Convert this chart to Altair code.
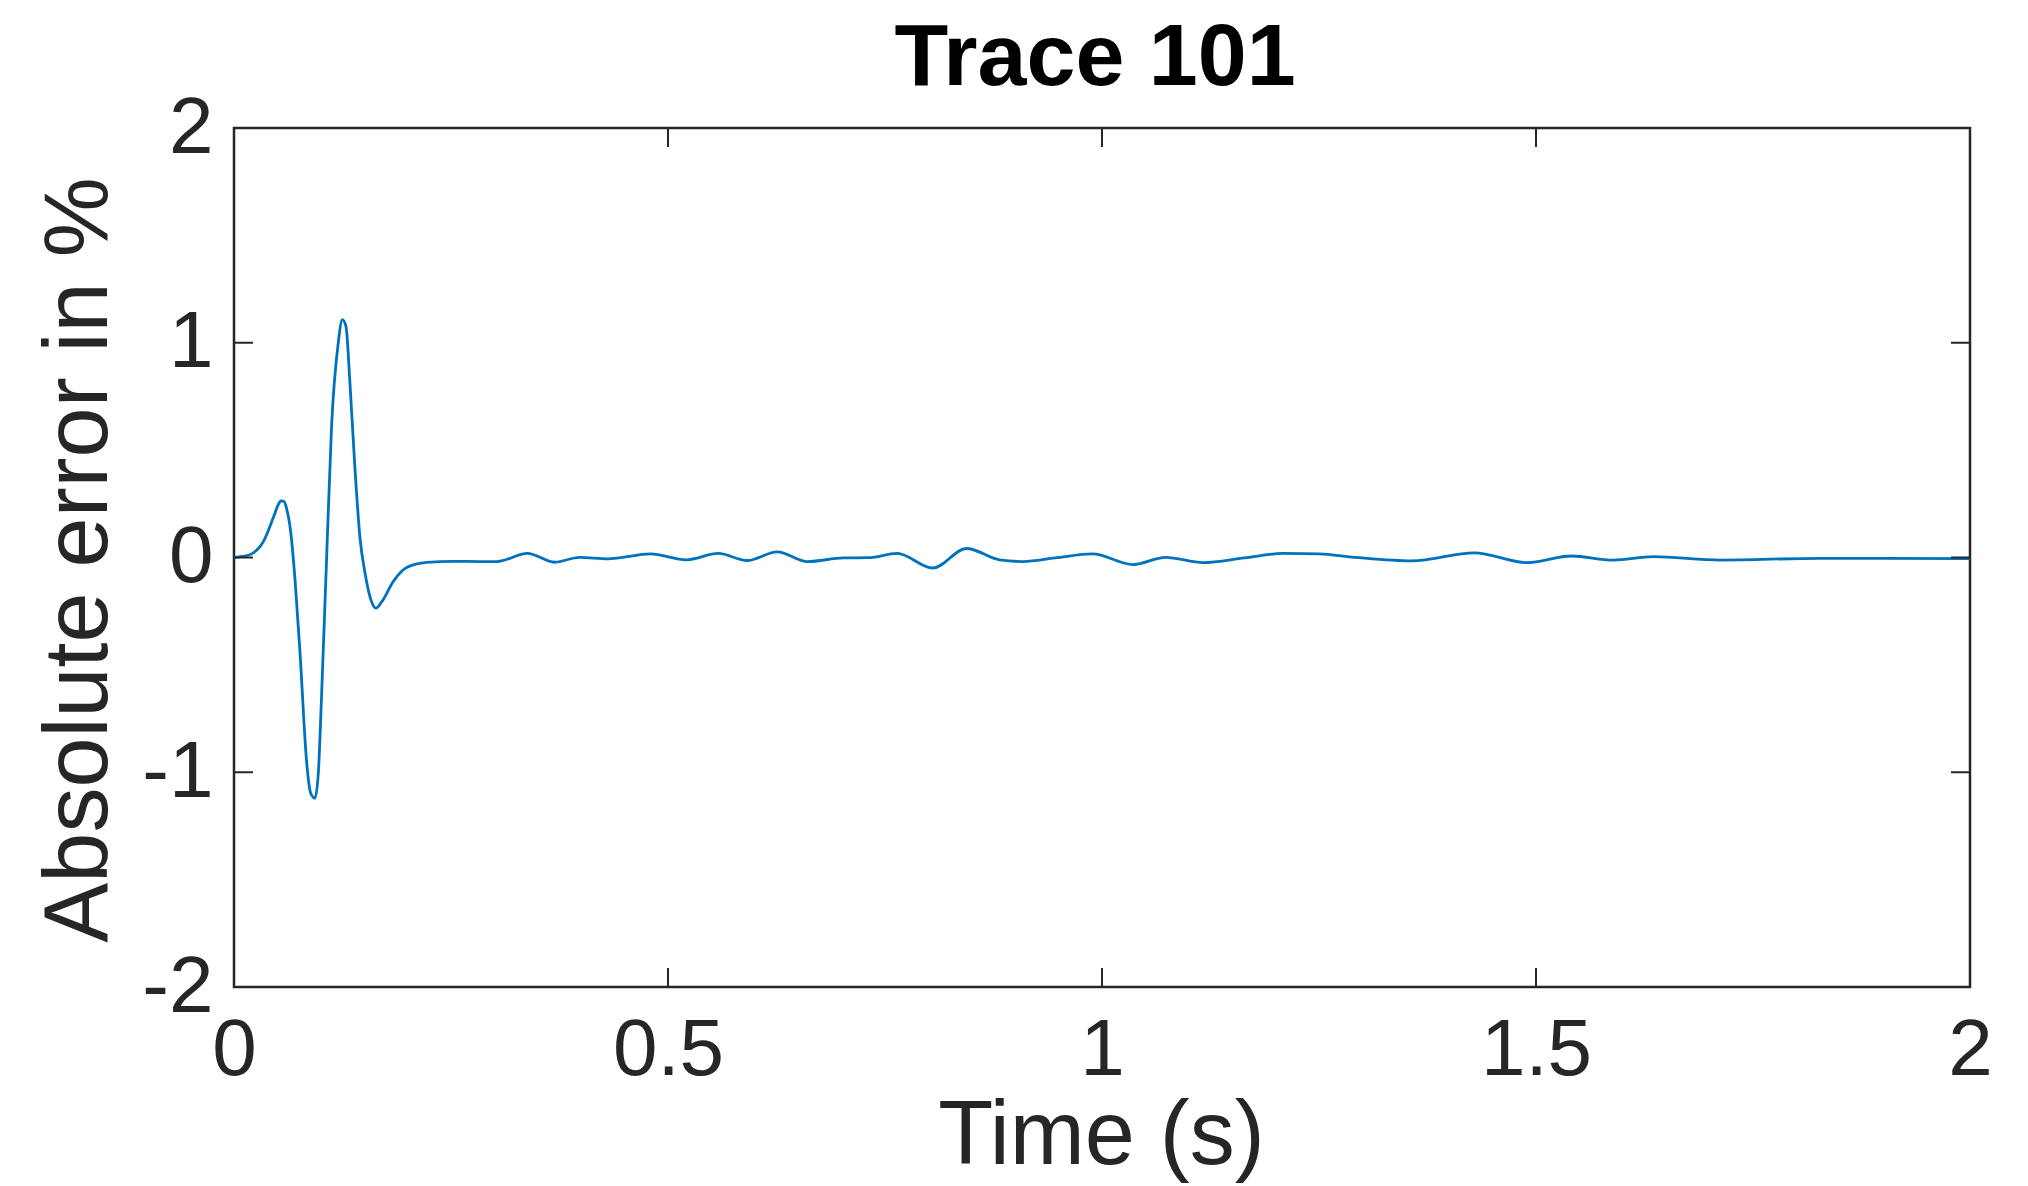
import altair as alt
import pandas as pd

# ---- data ----
time_s = [0.000, 0.010, 0.0204, 0.0338, 0.0453, 0.0515, 0.0538, 0.0572, 0.0607, 0.0653,
          0.0703, 0.0760, 0.0837, 0.0883, 0.0933, 0.0972, 0.1010, 0.1068, 0.1125, 0.1202,
          0.1248, 0.1290, 0.1336, 0.1394, 0.1452, 0.1509, 0.1567, 0.1636, 0.1701, 0.1836,
          0.1989, 0.2220, 0.2527, 0.2834, 0.303, 0.338, 0.3695, 0.398, 0.4307, 0.48,
          0.521, 0.558, 0.591, 0.626, 0.6607, 0.702, 0.731, 0.764, 0.805, 0.844,
          0.882, 0.909, 0.946, 0.989, 1.036, 1.073, 1.1166, 1.164, 1.209, 1.250,
          1.291, 1.357, 1.429, 1.489, 1.541, 1.589, 1.635, 1.712, 1.827, 2.0]
abs_error = [0.000, 0.005, 0.017, 0.074, 0.186, 0.250, 0.263, 0.262, 0.226, 0.12,
             -0.103, -0.44, -0.953, -1.097, -1.121, -1.0, -0.632, 0.009, 0.619, 1.003,
             1.108, 1.076, 0.811, 0.41, 0.089, -0.071, -0.183, -0.236, -0.207, -0.111,
             -0.047, -0.023, -0.018, -0.019, -0.019, 0.019, -0.022, 0.001, -0.006, 0.017,
             -0.011, 0.019, -0.014, 0.026, -0.019, -0.002, -0.001, 0.019, -0.049, 0.042,
             -0.011, -0.019, -0.002, 0.017, -0.033, 0.001, -0.024, -0.002, 0.019, 0.017,
             0.001, -0.016, 0.022, -0.024, 0.007, -0.012, 0.004, -0.012, -0.004, -0.005]

x_ticks = [0, 0.5, 1, 1.5, 2]
y_ticks = [-2, -1, 0, 1, 2]

title_text = "Trace 101"
x_title = "Time (s)"
y_title = "Absolute error in %"

W, H = 1736, 859
FONT = "Liberation Sans"
INK = "#262626"

df = pd.DataFrame({"t": time_s, "v": abs_error})
dfx = pd.DataFrame({"xt": x_ticks})
dfy = pd.DataFrame({"yt": y_ticks})
dft = pd.DataFrame({"label": [title_text]})

x_scale = alt.Scale(domain=[0, 2], nice=False, zero=False)
y_scale = alt.Scale(domain=[-2, 2], nice=False, zero=False)

x_axis = alt.Axis(values=x_ticks, labelExpr="'' + datum.value", ticks=False, tickSize=0,
                  domain=False, grid=False, labelFontSize=80, labelFont=FONT,
                  labelColor=INK, labelPadding=24, labelBaseline="top", labelFlush=False,
                  title=x_title, titleFont=FONT, titleFontSize=90, titleFontWeight="normal",
                  titleColor=INK, titleX=W / 2 - 1, titleY=176, titleBaseline="alphabetic",
                  titleAlign="center")
y_axis = alt.Axis(values=y_ticks, labelExpr="'' + datum.value", ticks=False, tickSize=0,
                  domain=False, grid=False, labelFontSize=80, labelFont=FONT,
                  labelColor=INK, labelPadding=21, labelFlush=False,
                  title=y_title, titleFont=FONT, titleFontSize=90, titleFontWeight="normal",
                  titleColor=INK, titleAngle=-90, titleX=-128, titleY=H / 2 + 2,
                  titleBaseline="alphabetic", titleAlign="center")

line = alt.Chart(df).mark_line(color="#0072BD", strokeWidth=2.8, interpolate="monotone").encode(
    x=alt.X("t:Q", scale=x_scale, axis=x_axis),
    y=alt.Y("v:Q", scale=y_scale, axis=y_axis),
)

tick_style = dict(color=INK, strokeWidth=2)
xb = alt.Chart(dfx).mark_rule(**tick_style).encode(
    x=alt.X("xt:Q", scale=x_scale), y=alt.value(H), y2=alt.value(H - 19))
xtp = alt.Chart(dfx).mark_rule(**tick_style).encode(
    x=alt.X("xt:Q", scale=x_scale), y=alt.value(0), y2=alt.value(19))
yl = alt.Chart(dfy).mark_rule(**tick_style).encode(
    y=alt.Y("yt:Q", scale=y_scale), x=alt.value(0), x2=alt.value(19))
yr = alt.Chart(dfy).mark_rule(**tick_style).encode(
    y=alt.Y("yt:Q", scale=y_scale), x=alt.value(W), x2=alt.value(W - 19))

title = alt.Chart(dft).mark_text(font=FONT, fontSize=88, fontWeight="bold", color="#000000",
                                 align="center", baseline="alphabetic").encode(
    text="label:N", x=alt.value(W / 2 - 7), y=alt.value(-43))

chart = alt.layer(line, xb, xtp, yl, yr, title).properties(
    width=W, height=H,
    autosize=alt.AutoSizeParams(type="none"),
    padding={"left": 234, "top": 128, "right": 58, "bottom": 199},
    background="white",
).configure_view(stroke=INK, strokeWidth=2.5)

chart.save("out.html", embed_options={"renderer": "svg", "actions": False})
